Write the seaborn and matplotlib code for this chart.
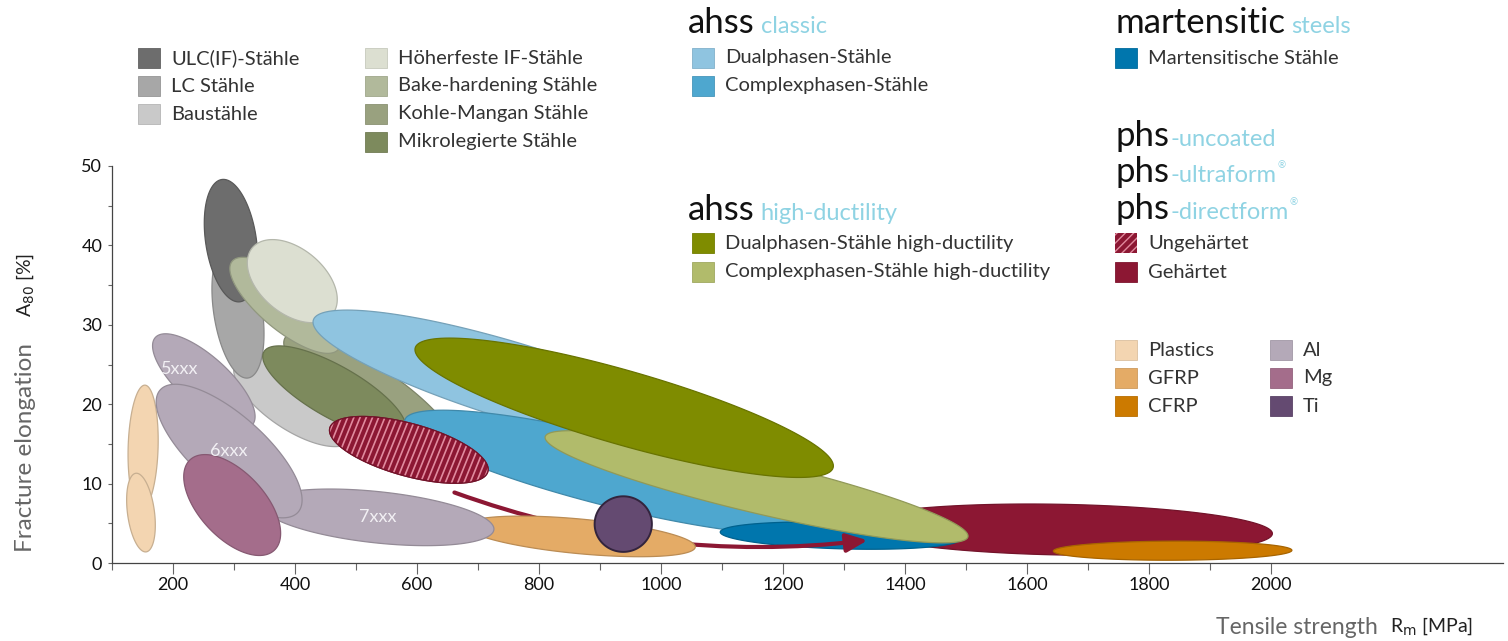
import numpy as np
import matplotlib
matplotlib.use("Agg")
import matplotlib.pyplot as plt
import seaborn as sns
from matplotlib.patches import FancyArrowPatch, Rectangle
from matplotlib.colors import to_rgb

# material regions, each drawn as an ellipse between two (Rm, A80) tips
region = ['Baustähle', 'LC Stähle', 'ULC(IF)-Stähle', 'Kohle-Mangan Stähle',
          'Mikrolegierte Stähle', 'Bake-hardening Stähle', 'Höherfeste IF-Stähle',
          'Dualphasen-Stähle', 'Complexphasen-Stähle', 'Ungehärtet', 'Gehärtet',
          'Martensitische Stähle', 'CFRP', 'GFRP', 'Ti', 'Plastics', 'Plastics',
          'Al', 'Al', 'Al', 'Mg',
          'Complexphasen-Stähle high-ductility', 'Dualphasen-Stähle high-ductility']
rm_start = [303, 290, 280, 384, 349, 297, 330, 430, 580, 457, 1310, 1097, 1643,
            679, 938, 154, 139, 346, 171, 179, 228, 810, 597]
a_start = [25.3, 40.1, 48.3, 28.4, 26.6, 38.0, 39.7, 30.6, 18.0, 17.0, 4.7, 3.9,
           1.5, 4.7, 8.4, 22.4, 11.3, 7.3, 28.4, 21.8, 13.0, 15.9, 27.1]
rm_end = [493, 323, 310, 662, 580, 471, 461, 1097, 1270, 716, 2002, 1490, 2034,
          1056, 938, 148, 156, 726, 330, 405, 366, 1503, 1282]
a_end = [15.5, 23.3, 32.9, 14.0, 16.5, 26.9, 31.3, 14.9, 4.8, 11.5, 3.7, 3.0,
         1.6, 2.0, 1.4, 6.7, 1.4, 4.2, 17.4, 6.4, 1.6, 3.3, 12.0]
spread = [0.41, 0.36, 0.41, 0.28, 0.32, 0.36, 0.62, 0.18, 0.16, 0.32, 0.12, 0.11,
          0.08, 0.15, 1.03, 0.24, 0.34, 0.22, 0.38, 0.39, 0.53, 0.12, 0.17]
region_label = ['', '', '', '', '', '', '', '', '', '', '', '', '', '', '', '', '',
                '7xxx', '5xxx', '6xxx', '', '', '']

# hot forming route arrow (Rm, A80)
arrow_rm = [657, 1343]
arrow_a = [9.0, 2.9]

colors = {
    'ULC(IF)-Stähle': '#6d6d6d', 'LC Stähle': '#a7a7a7', 'Baustähle': '#c9c9c9',
    'Höherfeste IF-Stähle': '#dcdfd1', 'Bake-hardening Stähle': '#b1b99b',
    'Kohle-Mangan Stähle': '#99a17f', 'Mikrolegierte Stähle': '#7d8a5d',
    'Dualphasen-Stähle': '#8fc4e0', 'Complexphasen-Stähle': '#4ea7cf',
    'Martensitische Stähle': '#0076ad',
    'Dualphasen-Stähle high-ductility': '#7f8c00',
    'Complexphasen-Stähle high-ductility': '#b1bb6b',
    'Ungehärtet': '#8c1733', 'Gehärtet': '#8c1733',
    'Plastics': '#f3d5b1', 'GFRP': '#e4ab66', 'CFRP': '#cc7a00',
    'Al': '#b4a9b8', 'Mg': '#a46d8b', 'Ti': '#644a71',
}
stripe_color = '#e08a9e'
accent = '#8fd3e3'

sns.set_theme(style='ticks')
plt.rcParams['font.family'] = ['Lato', 'DejaVu Sans']

W, H = 1508, 641
fig = plt.figure(figsize=(W / 100, H / 100), dpi=100)
ax = fig.add_axes([112 / W, 78 / H, 1391 / W, 397 / H])
ax.set_xlim(100, 2380)
ax.set_ylim(0, 50)


def ellipse_pts(p1, p2, ratio, n=160):
    d1, d2 = ax.transData.transform([p1, p2])
    c = (d1 + d2) / 2
    v = (d2 - d1) / 2
    a = np.hypot(*v)
    u = v / a
    w = np.array([-u[1], u[0]]) * a * ratio
    t = np.linspace(0, 2 * np.pi, n)
    pts = c + np.outer(np.cos(t), v) + np.outer(np.sin(t), w)
    return ax.transData.inverted().transform(pts), pts


def darker(c, f=0.82):
    return tuple(np.array(to_rgb(c)) * f)


for i, name in enumerate(region):
    pts, disp = ellipse_pts((rm_start[i], a_start[i]), (rm_end[i], a_end[i]), spread[i])
    col = colors[name]
    edge = '#33243d' if name == 'Ti' else darker(col)
    lw = 1.4 if name == 'Ti' else 0.9
    patch = ax.fill(pts[:, 0], pts[:, 1], fc=col, ec=edge, lw=lw, zorder=10 + i)[0]
    if name == 'Ungehärtet':
        x0, x1 = disp[:, 0].min(), disp[:, 0].max()
        y0, y1 = disp[:, 1].min(), disp[:, 1].max()
        run = (y1 - y0) / np.tan(np.radians(68))
        for xs in np.arange(x0 - run, x1 + 6, 6.2):
            seg = ax.transData.inverted().transform([[xs, y0], [xs + run, y1]])
            ln, = ax.plot(seg[:, 0], seg[:, 1], color=stripe_color, lw=1.2, zorder=10 + i)
            ln.set_clip_path(patch)
        ax.fill(pts[:, 0], pts[:, 1], fc='none', ec=darker(col), lw=0.9, zorder=10 + i)
    if name == 'Martensitische Stähle':
        arrow = FancyArrowPatch((arrow_rm[0], arrow_a[0]), (arrow_rm[1], arrow_a[1]),
                                connectionstyle='arc3,rad=0.12',
                                arrowstyle='-|>,head_length=0.8,head_width=0.35',
                                mutation_scale=16, lw=3.0, color='#8c1733',
                                zorder=10 + i + 0.5)
        ax.add_patch(arrow)
    if region_label[i]:
        cx = (rm_start[i] + rm_end[i]) / 2
        cy = (a_start[i] + a_end[i]) / 2
        if region_label[i] == '5xxx':
            cx, cy = rm_start[i] + 40, a_start[i] - 4
        ax.text(cx, cy, region_label[i], color='#f2f0f4', fontsize=13,
                ha='center', va='center', zorder=60)

# axes styling
sns.despine(ax=ax)
for s in ['left', 'bottom']:
    ax.spines[s].set_color('#444444')
    ax.spines[s].set_linewidth(0.9)
ax.set_xticks(np.arange(200, 2001, 200))
ax.set_xticks(np.arange(100, 2000, 200), minor=True)
ax.set_yticks(np.arange(0, 51, 10))
ax.set_yticks(np.arange(5, 50, 10), minor=True)
ax.tick_params(axis='x', which='major', direction='out', length=8, width=0.8,
               color='#666666', pad=2, labelsize=13, labelcolor='#111111')
ax.tick_params(axis='x', which='minor', direction='out', length=5, width=0.8,
               color='#666666')
ax.tick_params(axis='y', which='both', direction='out', length=3, width=0.8,
               color='#666666', pad=4, labelsize=13, labelcolor='#111111')
ax.grid(False)

# axis titles
fig.text(25 / W, 1 - 447 / H, 'Fracture elongation', rotation=90, ha='center',
         va='center', fontsize=17.5, color='#666666')
fig.text(25 / W, 1 - 285 / H, r'A$_{80}$ [%]', rotation=90, ha='center',
         va='center', fontsize=14, color='#222222')
fig.text(1378 / W, 1 - 628 / H, 'Tensile strength', ha='right', va='center',
         fontsize=16.5, color='#666666')
fig.text(1390 / W, 1 - 626 / H, r'R$_{\mathrm{m}}$ [MPa]', ha='left', va='center',
         fontsize=14, color='#222222')


def key(x, y, label, hatched=False):
    col = colors[label]
    r = Rectangle((x / W, 1 - (y + 10) / H), 22 / W, 20 / H, transform=fig.transFigure,
                  fc=col, ec=darker(col, 0.9), lw=0.6,
                  hatch='////' if hatched else None)
    if hatched:
        r.set_edgecolor(stripe_color)
        r.set_linewidth(0)
    fig.add_artist(r)
    fig.text((x + 33) / W, 1 - y / H, label, ha='left', va='center',
             fontsize=14.5, color='#333333')


for y, lab in zip([58, 86, 114], ['ULC(IF)-Stähle', 'LC Stähle', 'Baustähle']):
    key(138, y, lab)
for y, lab in zip([58, 86, 114, 142], ['Höherfeste IF-Stähle', 'Bake-hardening Stähle',
                                        'Kohle-Mangan Stähle', 'Mikrolegierte Stähle']):
    key(365, y, lab)
key(692, 58, 'Dualphasen-Stähle')
key(692, 86, 'Complexphasen-Stähle')
key(692, 243, 'Dualphasen-Stähle high-ductility')
key(692, 272, 'Complexphasen-Stähle high-ductility')
key(1115, 58, 'Martensitische Stähle')
key(1115, 243, 'Ungehärtet', hatched=True)
key(1115, 272, 'Gehärtet')
for y, lab in zip([350, 378, 406], ['Plastics', 'GFRP', 'CFRP']):
    key(1115, y, lab)
for y, lab in zip([350, 378, 406], ['Al', 'Mg', 'Ti']):
    key(1270, y, lab)

renderer = fig.canvas.get_renderer()


def header(x, y, main, suffix, size=25, gap=6, mark=False):
    t = fig.text(x / W, 1 - y / H, main, ha='left', va='baseline', fontsize=size,
                 color='#111111')
    bb = t.get_window_extent(renderer)
    s = fig.text((bb.x1 + gap) / W, 1 - y / H, suffix, ha='left', va='baseline',
                 fontsize=17, color=accent)
    if mark:
        sb = s.get_window_extent(renderer)
        fig.text((sb.x1 + 1) / W, 1 - (y - 14) / H, '®', ha='left', va='baseline',
                 fontsize=7, color=accent)


header(688, 33, 'ahss', 'classic')
header(688, 220, 'ahss', 'high-ductility')
header(1115, 33, 'martensitic', 'steels')
header(1115, 146, 'phs', '-uncoated', gap=1)
header(1115, 182, 'phs', '-ultraform', gap=1, mark=True)
header(1115, 219, 'phs', '-directform', gap=1, mark=True)

fig.savefig('out.png', dpi=100)
